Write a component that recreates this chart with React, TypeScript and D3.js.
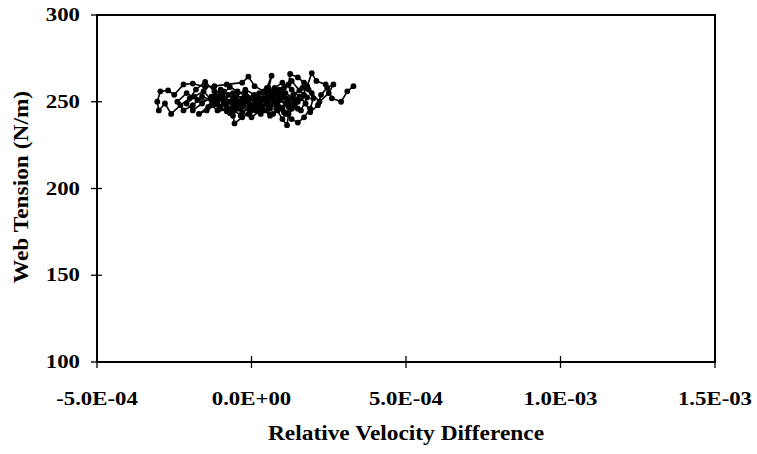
import React from "react";
import * as d3 from "d3";

const yTicks = [100, 150, 200, 250, 300];
const xTicks = [-5e-4, 0, 5e-4, 1e-3, 1.5e-3];
const xTickLabels = ["-5.0E-04", "0.0E+00", "5.0E-04", "1.0E-03", "1.5E-03"];

// Relative velocity difference (x) and web tension in N/m (y), in time order
const relVel = [
  3.3e-4, 3.1e-4, 2.9e-4, 2.6e-4, 2.4e-4, 2.1e-4, 1.95e-4, 1.8e-4, 1.6e-4, 1.4e-4,
  1.2e-4, 1.15e-4, 1.0e-4, 0.8e-4, 0.6e-4, 0.55e-4, 0.65e-4, 0.5e-4, 0.3e-4, 0.1e-4,
  -0.1e-4, -0.3e-4, -0.55e-4, -0.6e-4, -0.8e-4, -1.0e-4, -1.2e-4, -1.5e-4, -1.8e-4, -2.0e-4,
  -2.3e-4, -2.6e-4, -2.8e-4, -3.0e-4, -3.05e-4, -2.95e-4, -2.7e-4, -2.5e-4, -2.2e-4, -1.9e-4,
  -1.5e-4, -1.2e-4, -0.8e-4, -0.3e-4, -0.1e-4, 0.1e-4, 0.4e-4, 0.7e-4, 0.9e-4, 1.1e-4,
  1.3e-4, 1.5e-4, 1.7e-4, 1.9e-4, 2.0e-4, 1.85e-4, 1.7e-4, 1.5e-4, 1.25e-4, 1.2e-4,
  1.0e-4, 0.8e-4, 0.55e-4, 0.3e-4, 0.0, -0.25e-4, -0.5e-4, -0.75e-4, -1.0e-4, -1.3e-4,
  -1.6e-4, -1.9e-4, -2.1e-4, -1.85e-4, -1.55e-4, -1.25e-4, -1.0e-4, -0.7e-4, -0.4e-4, -0.1e-4,
  0.2e-4, 0.45e-4, 0.75e-4, 1.0e-4, 1.3e-4, 1.55e-4, 1.75e-4, 1.9e-4, 2.15e-4, 2.25e-4,
  2.45e-4, 2.65e-4, 2.5e-4, 2.2e-4, 1.95e-4, 1.65e-4, 1.35e-4, 1.1e-4, 0.85e-4, 0.6e-4,
  0.35e-4, 0.15e-4, -0.15e-4, -0.45e-4, -0.7e-4, -0.95e-4, -1.2e-4, -1.45e-4, -1.7e-4, -1.4e-4,
  -1.1e-4, -0.85e-4, -0.55e-4, -0.3e-4, 0.0, 0.25e-4, 0.5e-4, 0.7e-4, 0.9e-4, 1.15e-4,
  1.4e-4, 1.6e-4, 1.8e-4, 1.55e-4, 1.3e-4, 1.05e-4, 0.8e-4, 0.55e-4, 0.35e-4, 0.1e-4,
  -0.2e-4, -0.45e-4, -0.65e-4, -0.9e-4, -1.15e-4, -0.9e-4, -0.6e-4, -0.35e-4, -0.05e-4, 0.25e-4,
  0.5e-4, 0.8e-4, 1.05e-4, 1.3e-4, 1.5e-4, 1.7e-4, 1.45e-4, 1.2e-4, 0.95e-4, 0.65e-4,
  0.4e-4, 0.2e-4, -0.05e-4, -0.3e-4, -0.6e-4, -0.8e-4, -1.05e-4, -1.3e-4, -1.6e-4, -1.9e-4,
  -2.2e-4, -2.4e-4, -2.1e-4, -1.75e-4, -0.9e-4, -0.6e-4, -0.3e-4, 0.0, 0.3e-4, 0.6e-4,
  0.9e-4, 1.2e-4, 1.0e-4, 0.7e-4, 0.4e-4, 0.1e-4, -0.2e-4, -0.5e-4, -0.8e-4, -1.1e-4,
  -1.3e-4, -1.0e-4, -0.7e-4, -0.4e-4, -0.15e-4, 0.15e-4, 0.45e-4, 0.75e-4, 1.0e-4, 1.25e-4,
  1.5e-4, 1.35e-4, 1.1e-4, 0.85e-4, 0.6e-4, 0.3e-4, 0.05e-4, -0.25e-4, -0.55e-4, -0.35e-4,
  -0.05e-4, 0.25e-4, 0.55e-4, 0.85e-4,
];
const tension = [
  259, 256, 250, 252, 260, 262, 266.5, 259, 252, 247,
  243, 236.5, 240, 246, 252, 257, 265, 258, 251, 247,
  243, 241, 237.5, 242, 247, 252, 256, 261.5, 257, 252,
  248, 243, 249, 245, 250, 256, 256.5, 254, 260, 260.5,
  258.5, 259, 260, 261, 264.5, 259, 256, 252, 247, 243,
  240, 238, 241, 246, 252, 257, 261, 264, 266, 260,
  255, 250, 246, 243, 245, 248, 251, 254, 257, 253,
  249, 245, 249, 253, 256, 250, 246, 243.5, 246, 250,
  253, 255.5, 258, 261, 257, 253, 249, 244, 248, 254,
  258, 260, 255, 250, 255, 258, 254, 249, 245, 242,
  246, 249.5, 253, 256, 258.5, 254, 248.5, 245, 243, 247,
  250, 252, 248, 244, 241, 244.5, 249, 254, 257, 252,
  249, 245, 252.5, 256.5, 262, 258, 254, 250, 247, 251,
  255, 250, 246, 249, 253, 256, 252, 249, 246, 249,
  253, 248, 244, 246, 250, 254, 251, 247, 251, 255,
  252, 247, 244, 247, 249, 244.5, 247.5, 251, 253, 248,
  245, 250, 255, 251, 251, 255, 252, 248, 252, 248,
  253, 250, 246, 243, 245, 254, 257, 253, 249, 245,
  248, 255, 250, 247, 250, 245, 251, 256, 253, 248,
  246, 252, 255, 250, 246, 249, 253, 251, 245, 242,
  248, 255, 258, 255,
];

const W = 757;
const H = 454;
const plot = { left: 97, right: 715, top: 15, bottom: 362 };
const FONT = "'Liberation Serif', 'Times New Roman', serif";
const STRETCH = 1.2;

export default function App() {
  const x = d3.scaleLinear().domain([-5e-4, 1.5e-3]).range([plot.left, plot.right]);
  const y = d3.scaleLinear().domain([100, 300]).range([plot.bottom, plot.top]);
  const pts: [number, number][] = relVel.map((v, i) => [v, tension[i]]);
  const line = d3
    .line<[number, number]>()
    .x((d) => x(d[0]))
    .y((d) => y(d[1]));

  return (
    <svg width={W} height={H} style={{ display: "block", position: "absolute", left: 0, top: 0 }}>
      <rect width={W} height={H} fill="#fff" />
      {/* frame */}
      <rect
        x={plot.left}
        y={plot.top}
        width={plot.right - plot.left}
        height={plot.bottom - plot.top}
        fill="none"
        stroke="#000"
        strokeWidth={2}
      />
      {/* y ticks */}
      {yTicks.map((t) => (
        <g key={"y" + t}>
          <line x1={plot.left - 6} x2={plot.left + 5} y1={y(t)} y2={y(t)} stroke="#000" strokeWidth={1.3} />
          <g transform={`translate(80,${y(t) + 6}) scale(${STRETCH},1)`}>
            <text textAnchor="end" fontFamily={FONT} fontWeight="bold" fontSize={19} fill="#000">
              {t}
            </text>
          </g>
        </g>
      ))}
      {/* x ticks */}
      {xTicks.map((t, i) => (
        <g key={"x" + i}>
          <line x1={x(t)} x2={x(t)} y1={plot.bottom - 6} y2={plot.bottom + 6} stroke="#000" strokeWidth={1.3} />
          <g transform={`translate(${x(t)},405) scale(${STRETCH},1)`}>
            <text textAnchor="middle" fontFamily={FONT} fontWeight="bold" fontSize={19} fill="#000">
              {xTickLabels[i]}
            </text>
          </g>
        </g>
      ))}
      {/* axis titles */}
      <g transform={`translate(${(plot.left + plot.right) / 2},440) scale(1.17,1)`}>
        <text textAnchor="middle" fontFamily={FONT} fontWeight="bold" fontSize={20} fill="#000">
          Relative Velocity Difference
        </text>
      </g>
      <g transform={`translate(28,187) rotate(-90) scale(1.17,1)`}>
        <text textAnchor="middle" fontFamily={FONT} fontWeight="bold" fontSize={20} fill="#000">
          Web Tension (N/m)
        </text>
      </g>
      {/* data */}
      <path d={line(pts) || ""} fill="none" stroke="#000" strokeWidth={1.6} strokeLinejoin="round" />
      {pts.map((p, i) => (
        <circle key={i} cx={x(p[0])} cy={y(p[1])} r={2.9} fill="#000" />
      ))}
    </svg>
  );
}
